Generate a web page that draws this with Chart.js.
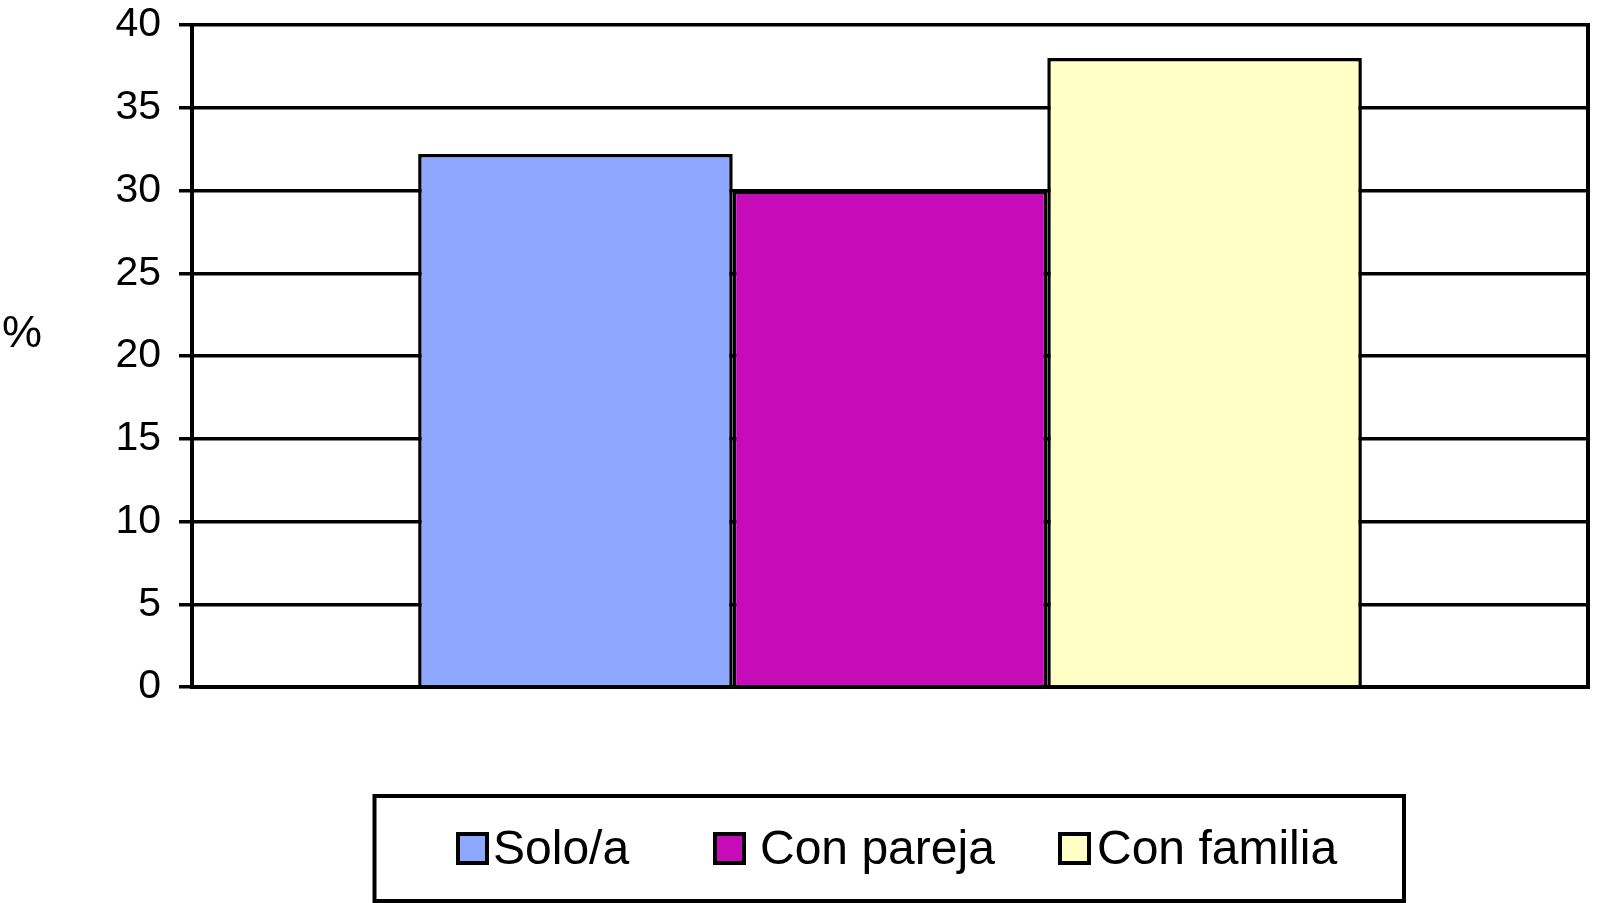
<!DOCTYPE html>
<html>
<head>
<meta charset="utf-8">
<script src="https://cdn.jsdelivr.net/npm/chart.js@4.4.0/dist/chart.umd.min.js"></script>
<style>
  html, body { margin: 0; padding: 0; background: #ffffff; }
  canvas { display: block; }
</style>
</head>
<body>
<canvas id="c" width="1597" height="903"></canvas>
<script>
// ---- data ----
const categories = [''];
const seriesNames = ['Solo/a', 'Con pareja', 'Con familia'];
const seriesValues = [32.2, 30, 38];
const seriesColors = ['#8FA8FF', '#C60CB8', '#FFFFC6'];
const yTicks = [0, 5, 10, 15, 20, 25, 30, 35, 40];
const yAxisLabel = '%';

const FONT = '"Liberation Sans", Arial, Helvetica, sans-serif';

const datasets = seriesNames.map((name, i) => ({
  label: name,
  data: [seriesValues[i]],
  backgroundColor: seriesColors[i],
  borderColor: '#000000',
  borderWidth: 3.5,
  barPercentage: 1.0,
  categoryPercentage: 0.676
}));

const framePlugin = {
  id: 'frame',
  afterDatasetsDraw(chart) {
    const { ctx, chartArea } = chart;
    ctx.save();
    ctx.strokeStyle = '#000000';
    ctx.lineWidth = 4;
    ctx.beginPath();
    ctx.moveTo(chartArea.right, chartArea.top - 2);
    ctx.lineTo(chartArea.right, chartArea.bottom + 2);
    ctx.stroke();
    ctx.restore();
  },
  afterDraw(chart) {
    const { ctx, chartArea } = chart;
    ctx.save();
    // y-axis label (horizontal)
    ctx.fillStyle = '#000000';
    ctx.font = '45px ' + FONT;
    ctx.textAlign = 'left';
    ctx.textBaseline = 'middle';
    ctx.fillText(yAxisLabel, 2, (chartArea.top + chartArea.bottom) / 2 - 21);

    // legend box
    ctx.strokeStyle = '#000000';
    ctx.lineWidth = 4;
    ctx.strokeRect(374.5, 796, 1029.5, 105);

    const swatchX = [456, 713, 1058];
    const textX = [493, 760, 1097];
    const swY = 832, swS = 33;
    ctx.font = '48px ' + FONT;
    ctx.textBaseline = 'middle';
    chart.data.datasets.forEach((ds, i) => {
      ctx.fillStyle = ds.backgroundColor;
      ctx.fillRect(swatchX[i], swY, swS, swS);
      ctx.lineWidth = 4;
      ctx.strokeStyle = '#000000';
      ctx.strokeRect(swatchX[i] + 2, swY + 2, swS - 4, swS - 4);
      ctx.fillStyle = '#000000';
      ctx.fillText(ds.label, textX[i], swY + swS / 2 + 2);
    });
    ctx.restore();
  }
};

new Chart(document.getElementById('c'), {
  type: 'bar',
  data: { labels: categories, datasets },
  options: {
    responsive: false,
    animation: false,
    devicePixelRatio: 1,
    layout: { padding: { top: 25, right: 9, bottom: 215, left: 0 } },
    plugins: {
      legend: { display: false },
      tooltip: { enabled: false },
      title: { display: false }
    },
    scales: {
      x: {
        type: 'category',
        grid: { display: false },
        ticks: { display: false },
        border: { display: true, color: '#000000', width: 4 },
        afterFit(scale) { scale.height = 1; }
      },
      y: {
        min: 0,
        max: 40,
        afterBuildTicks(scale) { scale.ticks = yTicks.map(v => ({ value: v })); },
        afterFit(scale) {
          scale.width = 192;
          scale.paddingTop = 0;
          scale.paddingBottom = 0;
        },
        grid: {
          color: '#000000',
          lineWidth: 3.5,
          drawTicks: true,
          tickLength: 13
        },
        border: { display: true, color: '#000000', width: 4 },
        ticks: {
          color: '#000000',
          padding: 18,
          font: { family: FONT, size: 41 }
        }
      }
    }
  },
  plugins: [framePlugin]
});
</script>
</body>
</html>
